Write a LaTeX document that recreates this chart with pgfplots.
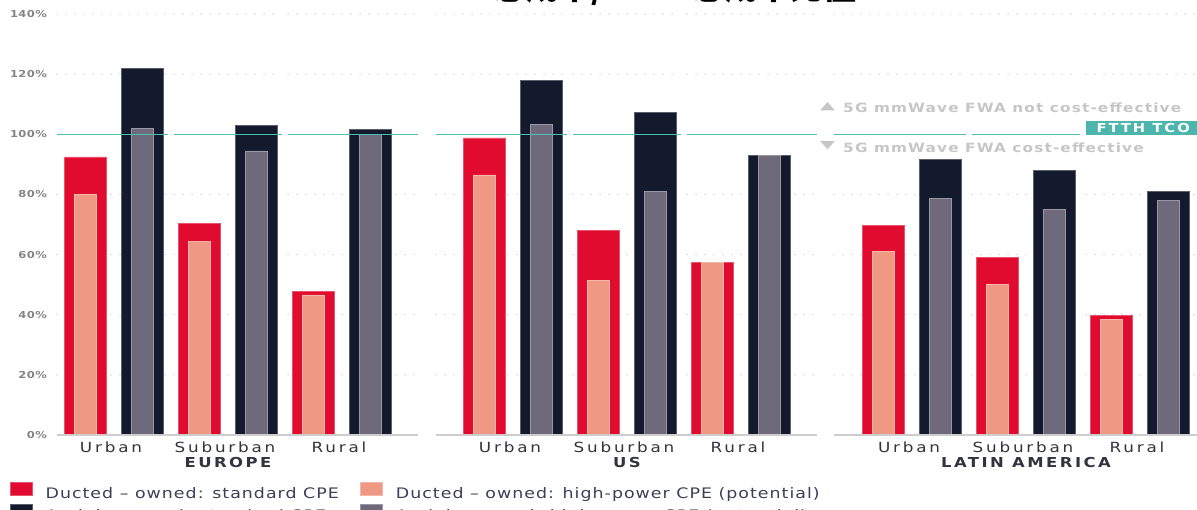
\documentclass[border=0pt]{standalone}
\usepackage{fontspec}
\usepackage{graphicx}
\usepackage{pgfplots}
\usepackage{pgfplotstable}
\pgfplotsset{compat=1.18}

\setmainfont{DejaVu Sans}
\newfontfamily\tickfont[FakeStretch=1.2, LetterSpace=4]{DejaVu Sans}
\newfontfamily\catfont[FakeStretch=1.2, LetterSpace=20]{DejaVu Sans}
\newfontfamily\grpfont[FakeStretch=1.2, LetterSpace=18]{DejaVu Sans}
\newfontfamily\legfont[FakeStretch=1.2, LetterSpace=7]{DejaVu Sans}
\newfontfamily\notefont[FakeStretch=1.2, LetterSpace=9]{DejaVu Sans}
\newfontfamily\boxfont[FakeStretch=1.2, LetterSpace=16]{DejaVu Sans}
\newfontfamily\cjk{Noto Sans CJK SC}

\definecolor{ductred}{HTML}{E00B2E}
\definecolor{ductsalmon}{HTML}{EF9985}
\definecolor{aerialnavy}{HTML}{141A2D}
\definecolor{aerialgray}{HTML}{6E6A7C}
\definecolor{ftthteal}{HTML}{4DBFB0}
\definecolor{boxteal}{HTML}{4DB6AC}
\definecolor{gridgray}{HTML}{C4C4C4}
\definecolor{basegray}{HTML}{CDCDCD}
\definecolor{tickgray}{HTML}{858585}
\definecolor{cattext}{HTML}{33333F}
\definecolor{legtext}{HTML}{3B3E57}
\definecolor{notegray}{HTML}{C6C6C6}

% TCO of 5G mmWave FWA relative to FTTH (%), per region and area type
% x: category position (Europe 0-2, US 3.5-5.5, Latin America 7-9)
\pgfplotstableread{
x    dstd   dhp    astd   ahp
0    92.5   80.0   122.0  102.0
1    70.3   64.4   103.0  94.5
2    47.7   46.6   101.7  100.0
3.5  98.8   86.5   117.8  103.3
4.5  68.1   51.3   107.3  80.9
5.5  57.4   57.4   92.9   92.9
7    69.8   61.1   91.7   78.6
8    59.0   50.2   88.1   75.1
9    39.8   38.5   81.0   78.0
}\tcodata

\pgfplotsset{
  sqlegend/.style={legend image code/.code={\fill[##1] (0pt,-1.5pt) rectangle (22pt,11.3pt);}},
}
\tikzset{
  gridline/.style={draw=gridgray, line width=1.4pt, line cap=round, dash pattern=on 0pt off 9pt},
}

\begin{document}
\begin{tikzpicture}
\begin{axis}[
  x=114pt, y=3.007pt,
  at={(57pt,75pt)}, anchor=south west,
  xmin=-0.5, xmax=9.5, ymin=0, ymax=140,
  clip=false,
  axis line style={draw=none},
  tick style={draw=none},
  /pgf/number format/assume math mode=true,
  ytick={0,20,...,140},
  yticklabel={\pgfmathprintnumber{\tick}\%},
  yticklabel style={font=\tickfont\bfseries\fontsize{9.6pt}{10pt}\selectfont,
    text=tickgray, anchor=east, inner sep=0pt, xshift=-10pt},
  xtick={0,1,2,3.5,4.5,5.5,7,8,9},
  xticklabels={Urban,Suburban,Rural,Urban,Suburban,Rural,Urban,Suburban,Rural},
  xticklabel style={font=\catfont\fontsize{14pt}{15pt}\selectfont,
    text=cattext, anchor=base, inner sep=0pt, yshift=-18pt, xshift=-3pt},
  legend columns=2,
  legend cell align=left,
  legend style={
    at={(axis description cs:-0.04123,-0.1128)}, anchor=north west,
    draw=none, fill=none, inner sep=0pt, outer sep=0pt,
    font=\legfont\fontsize{14.5pt}{16pt}\selectfont, text=legtext,
    nodes={inner sep=0pt, text height=11.5pt, text depth=3pt},
    row sep=3pt,
    /tikz/every odd column/.append style={column sep=13pt},
    /tikz/every even column/.append style={column sep=21.5pt},
  },
]

% dotted gridlines, broken between categories and regions
\pgfplotsinvokeforeach{20,40,60,80,120,140}{
  \draw[gridline]
    (axis cs:-0.5,#1)  -- (axis cs:0.473,#1)
    (axis cs:0.527,#1) -- (axis cs:1.473,#1)
    (axis cs:1.527,#1) -- (axis cs:2.667,#1)
    (axis cs:2.825,#1) -- (axis cs:3.973,#1)
    (axis cs:4.027,#1) -- (axis cs:4.973,#1)
    (axis cs:5.027,#1) -- (axis cs:6.167,#1)
    (axis cs:6.316,#1) -- (axis cs:7.473,#1)
    (axis cs:7.527,#1) -- (axis cs:8.473,#1)
    (axis cs:8.527,#1) -- (axis cs:9.5,#1);
}

\addplot[ybar, sqlegend, bar width=42pt, bar shift=-28.5pt,
  fill=ductred, draw=ductred!70!white, line width=0.6pt]
  table[x=x, y=dstd] {\tcodata};
\addlegendentry{Ducted – owned: standard CPE}
\addplot[ybar, sqlegend, bar width=22pt, bar shift=-28.5pt,
  fill=ductsalmon, draw=ductsalmon!70!white, line width=0.6pt]
  table[x=x, y=dhp] {\tcodata};
\addlegendentry{Ducted – owned: high-power CPE (potential)}
\addplot[ybar, sqlegend, bar width=42pt, bar shift=28.5pt,
  fill=aerialnavy, draw=aerialnavy!70!white, line width=0.6pt]
  table[x=x, y=astd] {\tcodata};
\addlegendentry{Aerial – owned: standard CPE}
\addplot[ybar, sqlegend, bar width=22pt, bar shift=28.5pt,
  fill=aerialgray, draw=aerialgray!70!white, line width=0.6pt]
  table[x=x, y=ahp] {\tcodata};
\addlegendentry{Aerial – owned: high-power CPE (potential)}

% zero line per region
\draw[basegray, line width=1.5pt]
  (axis cs:-0.5,0) -- (axis cs:2.667,0)
  (axis cs:2.825,0) -- (axis cs:6.167,0)
  (axis cs:6.316,0) -- (axis cs:9.5,0);

% FTTH TCO reference at 100%
\draw[ftthteal, line width=1.5pt]
  (axis cs:-0.5,100)  -- (axis cs:0.473,100)
  (axis cs:0.527,100) -- (axis cs:1.473,100)
  (axis cs:1.527,100) -- (axis cs:2.667,100)
  (axis cs:2.825,100) -- (axis cs:3.973,100)
  (axis cs:4.027,100) -- (axis cs:4.973,100)
  (axis cs:5.027,100) -- (axis cs:6.167,100)
  (axis cs:6.316,100) -- (axis cs:7.473,100)
  (axis cs:7.527,100) -- (axis cs:8.473,100)
  (axis cs:8.527,100) -- (axis cs:9.5,100);
\node[fill=boxteal, text=white, anchor=south west, inner sep=0pt,
  minimum width=114pt, minimum height=14pt,
  font=\boxfont\bfseries\fontsize{12.3pt}{13pt}\selectfont]
  at (axis cs:8.526,99.8) {FTTH TCO};

% cost-effectiveness notes
\node[text=notegray, anchor=center, inner sep=0pt]
  at (axis cs:6.259,109.3) {\resizebox{15pt}{7pt}{▲}};
\node[text=notegray, anchor=west, inner sep=0pt,
  font=\notefont\bfseries\fontsize{12.75pt}{14pt}\selectfont]
  at (axis cs:6.395,108.9) {5G mmWave FWA not cost-effective};
\node[text=notegray, anchor=center, inner sep=0pt]
  at (axis cs:6.259,96.3) {\resizebox{15pt}{7pt}{▼}};
\node[text=notegray, anchor=west, inner sep=0pt,
  font=\notefont\bfseries\fontsize{12.75pt}{14pt}\selectfont]
  at (axis cs:6.395,95.4) {5G mmWave FWA cost-effective};

% region labels
\node[text=cattext, anchor=base, inner sep=0pt,
  font=\grpfont\bfseries\fontsize{13.7pt}{15pt}\selectfont,
  yshift=-32.8pt] at (axis cs:1,0) {EUROPE};
\node[text=cattext, anchor=base, inner sep=0pt,
  font=\grpfont\bfseries\fontsize{13.7pt}{15pt}\selectfont,
  yshift=-32.8pt] at (axis cs:4.5,0) {US};
\node[text=cattext, anchor=base, inner sep=0pt,
  font=\grpfont\bfseries\fontsize{13.7pt}{15pt}\selectfont,
  yshift=-32.8pt] at (axis cs:8,0) {LATIN AMERICA};
\end{axis}

% chart title
\node[anchor=base east, inner sep=0pt,
  font=\cjk\bfseries\fontsize{33pt}{34pt}\selectfont]
  at (857pt,510.4pt) {5G mmWave FWA总成本/FTTH总成本比值};

\pgfresetboundingbox
\useasboundingbox (0pt,0pt) rectangle (1197pt,510pt);
\end{tikzpicture}
\end{document}
